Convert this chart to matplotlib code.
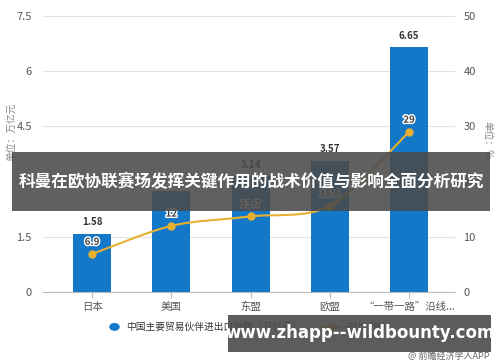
import numpy as np
import matplotlib.pyplot as plt
from matplotlib.path import Path
from matplotlib.patches import PathPatch, Rectangle
import matplotlib.patheffects as pe

plt.rcParams['font.family'] = ['Noto Sans CJK SC', 'DejaVu Sans']

# data
categories = ["日本", "美国", "东盟", "欧盟", "“一带一路”沿线..."]
trade_total = [1.58, 2.75, 3.14, 3.57, 6.65]   # 万亿元
share_pct = [6.9, 12, 13.7, 15.6, 29]           # %
bar_labels = ["1.58", "", "3.14", "3.57", "6.65"]
share_labels = ["6.9", "12", "13.7", "15.6", "29"]

bar_color = '#1478c8'
line_color = '#e8b030'
grey = '#555555'

fig = plt.figure(figsize=(5, 3.62), dpi=100)
ax = fig.add_axes([0.086, 0.193, 0.824, 0.763])
ax2 = ax.twinx()

x = np.arange(len(categories))
ax.bar(x, trade_total, width=0.48, color=bar_color, zorder=2)
for xi, v, lab in zip(x, trade_total, bar_labels):
    ax.text(xi, v + 0.18, lab, ha='center', va='bottom', fontsize=7,
            fontweight='bold', color='#333333', zorder=5)

ax.set_xlim(-0.62, 4.58)
ax.set_ylim(0, 7.5)
ax.set_yticks([0, 1.5, 3, 4.5, 6, 7.5])
ax.set_yticklabels(["0", "1.5", "3", "4.5", "6", "7.5"])
ax.set_xticks(x)
ax.set_xticklabels(categories)
ax.grid(axis='y', color='#e2e2e2', linewidth=0.8, zorder=0)
ax.set_axisbelow(True)
for s in ['top', 'left', 'right']:
    ax.spines[s].set_visible(False)
ax.spines['bottom'].set_color('#bbbbbb')
ax.tick_params(axis='y', length=0, labelsize=8, labelcolor=grey, pad=8)
ax.tick_params(axis='x', length=4, color='#bbbbbb', labelsize=7.5, labelcolor=grey, pad=3)
ax.set_ylabel("单位：万亿元", fontsize=7, color='#888888')
ax.yaxis.set_label_coords(-0.065, 0.58)

# smooth share line on right axis (bezier segments through the points)
ax2.set_ylim(0, 50)
ax2.set_yticks([0, 10, 20, 30, 40, 50])
for s in ['top', 'left', 'right', 'bottom']:
    ax2.spines[s].set_visible(False)
ax2.tick_params(axis='y', length=0, labelsize=8, labelcolor=grey, pad=6)
ax2.set_ylabel("单位：%", fontsize=7, color='#888888', rotation=270)
ax2.yaxis.set_label_coords(1.09, 0.55)

pts = np.column_stack([x, share_pct]).astype(float)
verts = [tuple(pts[0])]
codes = [Path.MOVETO]
t = 0.15
for i in range(len(pts) - 1):
    p0 = pts[i - 1] if i > 0 else pts[i]
    p1, p2 = pts[i], pts[i + 1]
    p3 = pts[i + 2] if i + 2 < len(pts) else pts[i + 1]
    c1 = p1 + (p2 - p0) * t
    c2 = p2 - (p3 - p1) * t
    verts += [tuple(c1), tuple(c2), tuple(p2)]
    codes += [Path.CURVE4] * 3
ax2.add_patch(PathPatch(Path(verts, codes), facecolor='none', edgecolor=line_color,
                        lw=1.5, zorder=3))
ax2.plot(x, share_pct, 'o', color=line_color, ms=5, zorder=4)
for xi, v, lab in zip(x, share_pct, share_labels):
    ax2.text(xi, v + 1.3, lab, ha='center', va='bottom', fontsize=7, fontweight='bold',
             color='#444444', zorder=5,
             path_effects=[pe.withStroke(linewidth=2, foreground='white')])

# legend
fig.patches.append(plt.Circle((0.229, 0.097), 0.009, transform=fig.transFigure,
                              color=bar_color, figure=fig))
fig.text(0.252, 0.097, "中国主要贸易伙伴进出口总额（万亿元）", fontsize=7, color='#333333',
         va='center')
fig.add_artist(plt.Line2D([0.645, 0.68], [0.097, 0.097], color=line_color, lw=1.5,
                          transform=fig.transFigure))
fig.add_artist(plt.Line2D([0.6625], [0.097], marker='o', color=line_color, ms=5,
                          transform=fig.transFigure))
fig.text(0.69, 0.097, "占比（%）", fontsize=7, color='#333333', va='center')
fig.text(0.98, 0.016, "@ 前瞻经济学人APP", fontsize=6.5, color='#666666', ha='right',
         va='center', zorder=12)

# overlay banners
fig.patches.append(Rectangle((0.024, 0.417), 0.956, 0.163, transform=fig.transFigure,
                             facecolor='#4a4a4a', alpha=0.88, zorder=10, figure=fig))
fig.text(0.502, 0.497, "科曼在欧协联赛场发挥关键作用的战术价值与影响全面分析研究",
         fontsize=12, fontweight='bold', color='white', ha='center', va='center',
         zorder=11)
fig.patches.append(Rectangle((0.456, 0.028), 0.526, 0.102, transform=fig.transFigure,
                             facecolor='#4a4a4a', alpha=0.9, zorder=10, figure=fig))
fig.text(0.72, 0.08, "www.zhapp--wildbounty.com", fontsize=12, fontweight='bold',
         color='white', ha='center', va='center', zorder=11, family='DejaVu Sans')

fig.savefig("out.png", dpi=100)
